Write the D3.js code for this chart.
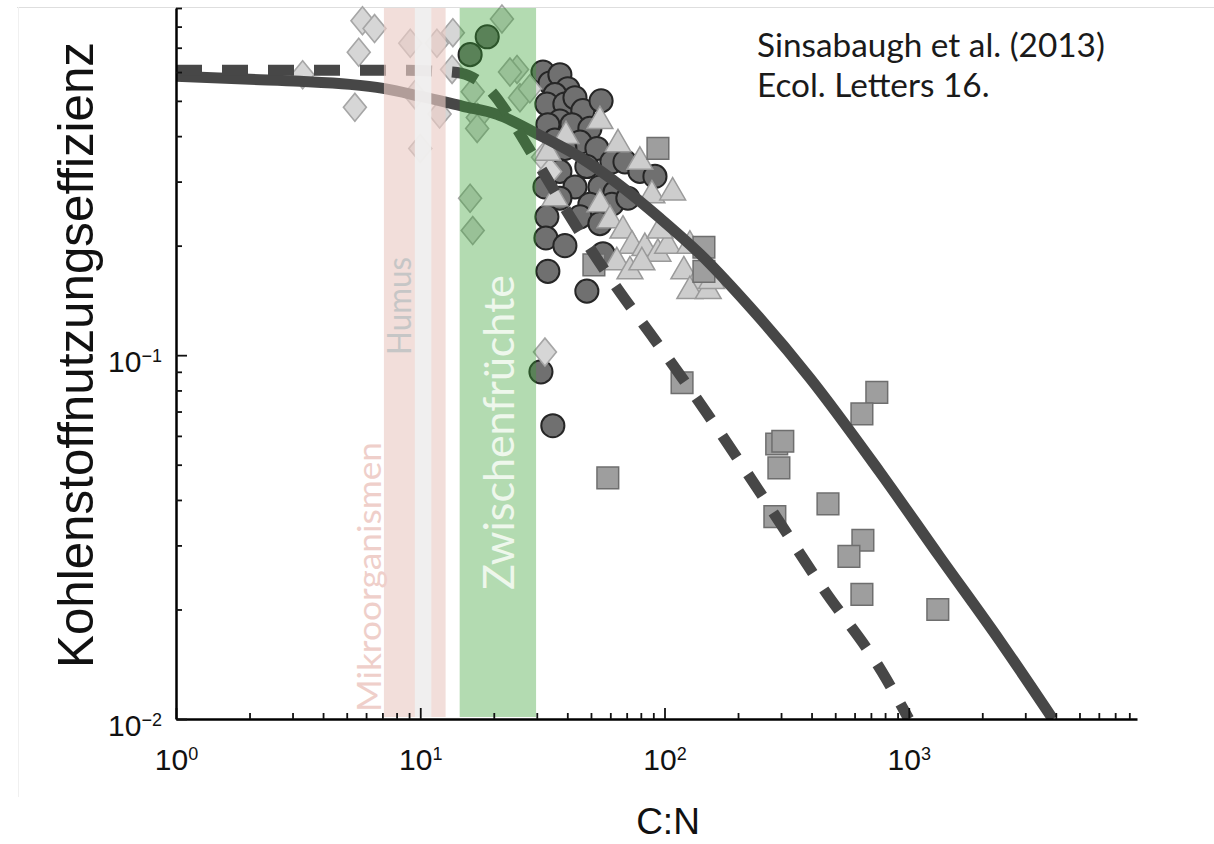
<!DOCTYPE html>
<html>
<head>
<meta charset="utf-8">
<script src="https://cdn.jsdelivr.net/npm/d3@7"></script>
<style>
  body { margin: 0; background: #fff; }
  svg { display: block; }
</style>
</head>
<body>
<svg id="chart" width="1214" height="844"></svg>
<script>
// Data (C:N ratio vs. carbon use efficiency)

// light grey diamonds
let diamondCN  = [3.3, 5.8, 6.5, 5.6, 5.4, 9.1, 11.7, 12.0, 10.0, 9.5, 13.6, 13.5, 21.6, 16.4, 17.2, 17.1, 24.9, 25.6, 16.0, 16.4, 28.1, 23.3, 31.8, 34.0, 32.4];
let diamondCUE = [0.59, 0.83, 0.79, 0.68, 0.48, 0.72, 0.72, 0.46, 0.37, 0.52, 0.77, 0.61, 0.84, 0.53, 0.45, 0.42, 0.61, 0.51, 0.27, 0.22, 0.54, 0.60, 0.35, 0.32, 0.102];

// dark grey circles
let circleCN  = [18.8, 16.0, 31.8, 34.0, 37.3, 40.2, 35.6, 33.0, 39.1, 43.0, 46.3, 55, 37.3, 33.3, 41.8, 49.5, 35.6, 45.1, 39.1, 52.9, 60.9, 68.9, 79.3, 91.4, 48.1, 37.3, 32.4, 43.0, 54.4, 62.7, 37.3, 49.5, 60.9, 70.8, 45.1, 54.4, 33.0, 32.7, 39.1, 56.0, 48.1, 33.3, 31.2, 34.9];
let circleCUE = [0.75, 0.67, 0.60, 0.56, 0.59, 0.54, 0.52, 0.49, 0.49, 0.51, 0.47, 0.50, 0.44, 0.43, 0.43, 0.42, 0.39, 0.385, 0.37, 0.37, 0.34, 0.34, 0.32, 0.31, 0.33, 0.32, 0.29, 0.29, 0.29, 0.28, 0.27, 0.26, 0.26, 0.27, 0.24, 0.23, 0.24, 0.21, 0.20, 0.19, 0.15, 0.17, 0.090, 0.064];

// light grey triangles
let triangleCN  = [33.3, 54.4, 64.5, 79.3, 88.8, 108, 54.4, 59.8, 67.6, 73.6, 83.1, 94, 103, 63.8, 72.2, 80.8, 127, 120, 136, 127, 151, 156, 39.5, 35.6, 95.8];
let triangleCUE = [0.36, 0.44, 0.38, 0.34, 0.275, 0.28, 0.26, 0.235, 0.22, 0.20, 0.197, 0.19, 0.20, 0.18, 0.17, 0.18, 0.20, 0.17, 0.16, 0.15, 0.15, 0.16, 0.40, 0.27, 0.22];

// grey squares
let squareCN  = [94, 145, 145, 51.4, 118, 58.6, 288, 305, 294, 283, 467, 649, 569, 643, 740, 643, 1315];
let squareCUE = [0.37, 0.198, 0.17, 0.177, 0.084, 0.046, 0.057, 0.058, 0.049, 0.036, 0.039, 0.031, 0.028, 0.022, 0.079, 0.069, 0.020];

// fitted curves
let solidCN  = [1, 2.01, 3.22, 5.15, 7.05, 9.97, 14.96, 20.6, 30.9, 45.1, 65.7, 95.8, 140, 224, 394, 762, 1340, 2360, 3890];
let solidCUE = [0.584, 0.573, 0.566, 0.555, 0.541, 0.515, 0.483, 0.459, 0.402, 0.350, 0.293, 0.238, 0.1895, 0.1355, 0.0865, 0.0477, 0.0279, 0.0164, 0.0100];
let dashedCN  = [1, 3.22, 8.26, 12.0, 14.8, 17.2, 19.3, 21.2, 24.4, 28.1, 37.3, 49.5, 65.7, 87.1, 116, 149, 258, 445, 776, 1000];
let dashedCUE = [0.607, 0.607, 0.607, 0.603, 0.595, 0.569, 0.535, 0.495, 0.428, 0.366, 0.267, 0.197, 0.149, 0.115, 0.0881, 0.0693, 0.0400, 0.0229, 0.0135, 0.0100];

// shaded C:N ranges
let bandLabels = ["Mikroorganismen", "Humus", "Zwischenfrüchte"];
let bandFrom   = [7.1, 9.5, 14.5];
let bandTo     = [12.7, 11.1, 29.8];

// ticks
let xTickValues = [1, 10, 100, 1000];
let xTickExp    = ["0", "1", "2", "3"];
let yTickValues = [0.01, 0.1];
let yTickExp    = ["\u22122", "\u22121"];

let sourceLines = ["Sinsabaugh et al. (2013)", "Ecol. Letters 16."];

const svg = d3.select("#chart");
const sans = "'Liberation Sans', Arial, sans-serif";
const calib = "Lato, 'Open Sans', sans-serif";

// log scales
let x = d3.scaleLog().domain([1, 8600]).range([176, 1137]);
let y = d3.scaleLog().domain([0.01, 0.9]).range([719, 8]);

// faint frame of the pasted picture
svg.append("line").attr("x1", 17).attr("x2", 1214).attr("y1", 7.5).attr("y2", 7.5)
  .attr("stroke", "#dedede").attr("stroke-width", 1);
svg.append("line").attr("x1", 18.5).attr("x2", 18.5).attr("y1", 7).attr("y2", 797)
  .attr("stroke", "#f0f0f0").attr("stroke-width", 1);

svg.append("defs").append("clipPath").attr("id", "plot")
  .append("rect").attr("x", 176).attr("y", 0).attr("width", 962).attr("height", 719);

let marks = svg.append("g");

function pts(xs, ys) {
  return xs.map((d, i) => [x(d), y(ys[i])]);
}

// circles
marks.append("g").selectAll("path")
  .data(pts(circleCN, circleCUE))
  .join("path")
  .attr("d", d3.symbol(d3.symbolCircle, 420))
  .attr("transform", d => `translate(${d[0]},${d[1]})`)
  .attr("fill", "#707070").attr("stroke", "#262626").attr("stroke-width", 2);

// diamonds (a bit taller than wide)
marks.append("g").selectAll("path")
  .data(pts(diamondCN, diamondCUE))
  .join("path")
  .attr("d", d3.symbol(d3.symbolSquare, 262))
  .attr("transform", d => `translate(${d[0]},${d[1]}) scale(1,1.22) rotate(45)`)
  .attr("fill", "#d6d6d6").attr("stroke", "#a6a6a6").attr("stroke-width", 1.5);

// triangles
marks.append("g").selectAll("path")
  .data(pts(triangleCN, triangleCUE))
  .join("path")
  .attr("d", d3.symbol(d3.symbolTriangle, 290))
  .attr("transform", d => `translate(${d[0]},${d[1]})`)
  .attr("fill", "#cdcdcd").attr("stroke", "#9a9a9a").attr("stroke-width", 1.5);

// squares
marks.append("g").selectAll("path")
  .data(pts(squareCN, squareCUE))
  .join("path")
  .attr("d", d3.symbol(d3.symbolSquare, 470))
  .attr("transform", d => `translate(${d[0]},${d[1]})`)
  .attr("fill", "#9e9e9e").attr("stroke", "#6e6e6e").attr("stroke-width", 1.5);

// curves
let line = d3.line().x(d => d[0]).y(d => d[1]).curve(d3.curveMonotoneX);

let curves = svg.append("g").attr("clip-path", "url(#plot)");
curves.append("path")
  .attr("d", line(pts(solidCN, solidCUE)))
  .attr("fill", "none").attr("stroke", "#474747").attr("stroke-width", 11);
curves.append("path")
  .attr("d", line(pts(dashedCN, dashedCUE)))
  .attr("fill", "none").attr("stroke", "#474747").attr("stroke-width", 11)
  .attr("stroke-dasharray", "26,20");

// shaded bands on top of the data
let bandFill = ["rgb(235,204,198)", "rgb(240,240,240)", "rgb(55,160,50)"];
let bandOpacity = [0.65, 0.93, 0.38];
svg.append("g").selectAll("rect")
  .data(bandLabels)
  .join("rect")
  .attr("x", (d, i) => x(bandFrom[i]))
  .attr("width", (d, i) => x(bandTo[i]) - x(bandFrom[i]))
  .attr("y", 8)
  .attr("height", 709)
  .attr("fill", (d, i) => bandFill[i])
  .attr("fill-opacity", (d, i) => bandOpacity[i]);

// band labels (rotated)
let bandText = [
  {x: x(bandFrom[0]) - 3, y: 712, len: 270, size: 33, color: "#efcfca"},
  {x: x(bandFrom[1]) - 4, y: 355, len: 98, size: 32, color: "#c6c6c6"},
  {x: x(bandFrom[2]) + 54, y: 590, len: 315, size: 43, color: "#eef7ec"}
];
svg.append("g").selectAll("text")
  .data(bandLabels)
  .join("text")
  .attr("transform", (d, i) => `translate(${bandText[i].x},${bandText[i].y}) rotate(-90)`)
  .attr("font-family", calib)
  .attr("font-size", (d, i) => bandText[i].size)
  .attr("fill", (d, i) => bandText[i].color)
  .attr("textLength", (d, i) => bandText[i].len)
  .attr("lengthAdjust", "spacingAndGlyphs")
  .text(d => d);

// axes
let minorX = [];
[1, 10, 100, 1000].forEach(p => d3.range(2, 10).forEach(m => { if (m * p < 8600) minorX.push(m * p); }));
let minorY = [];
[0.01, 0.1].forEach(p => d3.range(2, 10).forEach(m => minorY.push(+(m * p).toFixed(3))));

function styleAxis(g) {
  g.select(".domain").attr("stroke", "#000").attr("stroke-width", 2.5);
  g.selectAll(".tick line").attr("stroke", "#111").attr("stroke-width", 1.8);
}

// power-of-ten labels with superscripts
function powerLabels(g, exps, yPos) {
  g.selectAll(".tick text").each(function(d, i) {
    let t = d3.select(this).text(null)
      .attr("dy", null).attr("y", yPos)
      .attr("font-family", sans).attr("font-size", 30).attr("fill", "#111");
    t.append("tspan").text("10");
    t.append("tspan").attr("dy", -10).attr("font-size", 18).text(exps[i]);
  });
}

let xAxis = svg.append("g").attr("transform", "translate(0,719)");
xAxis.append("g")
  .call(d3.axisBottom(x).tickValues(minorX).tickSize(-6).tickSizeOuter(0).tickFormat(() => ""))
  .call(styleAxis);
let xMajor = xAxis.append("g")
  .call(d3.axisBottom(x).tickValues(xTickValues).tickSize(-11).tickSizeOuter(0))
  .call(styleAxis);
xMajor.select(".domain").remove();
powerLabels(xMajor, xTickExp, 51);

let yAxis = svg.append("g").attr("transform", "translate(176,0)");
yAxis.append("g")
  .call(d3.axisLeft(y).tickValues(minorY).tickSize(-6).tickSizeOuter(0).tickFormat(() => ""))
  .call(styleAxis);
let yMajor = yAxis.append("g")
  .call(d3.axisLeft(y).tickValues(yTickValues).tickSize(-11).tickSizeOuter(0).tickPadding(14))
  .call(styleAxis);
yMajor.select(".domain").remove();
powerLabels(yMajor, yTickExp, 16);

// axis titles
svg.append("text")
  .attr("transform", "translate(93,355) rotate(-90)")
  .attr("text-anchor", "middle")
  .attr("font-family", sans).attr("font-size", 50).attr("fill", "#111")
  .attr("textLength", 626).attr("lengthAdjust", "spacingAndGlyphs")
  .text("Kohlenstoffnutzungseffizienz");

svg.append("text")
  .attr("x", 668).attr("y", 834)
  .attr("text-anchor", "middle")
  .attr("font-family", sans).attr("font-size", 37).attr("fill", "#111")
  .text("C:N");

// source note: both lines share one size, fitted to the first line's width
let src = svg.append("g").selectAll("text")
  .data(sourceLines)
  .join("text")
  .attr("x", 757)
  .attr("y", (d, i) => 57 + i * 40)
  .attr("font-family", calib).attr("font-size", 34).attr("fill", "#1a1a1a")
  .text(d => d);
let fit = 348 / src.nodes()[0].getComputedTextLength();
src.attr("font-size", 34 * fit);
</script>
</body>
</html>
